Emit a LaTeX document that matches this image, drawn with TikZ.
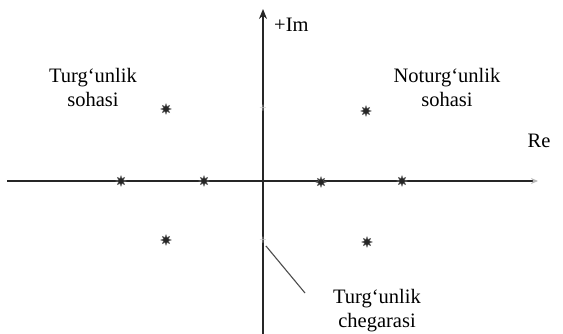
\documentclass[tikz,border=0pt]{standalone}
\usepackage{fontspec}
\setmainfont{Liberation Serif}
\usetikzlibrary{arrows.meta,positioning,shapes.geometric}
\tikzset{
    axis/.style={line width=1.3pt, black!85},
    pole/.style={star, star points=8, star point ratio=2.0, fill=black!85, draw=black!60,
                 line width=0.4pt, minimum size=10.5pt, inner sep=0pt},
    faint/.style={font=\fontsize{13}{13}\selectfont, text=gray!45, inner sep=0pt},
    lbl/.style={font=\fontsize{20.5}{24}\selectfont, align=center, inner sep=0pt},
    pointer/.style={line width=1.1pt, black!70},
}

\begin{document}
\begin{tikzpicture}[x=1pt,y=-1pt]
    \useasboundingbox (0,0) rectangle (563,334);
    % Axes
    \coordinate (O)    at (263,181);
    \coordinate (reL)  at (7,181);
    \coordinate (reR)  at (538,181);
    \coordinate (imB)  at (263,334);
    \coordinate (imT)  at (263,9);
    \draw[axis, -{Stealth[length=7pt,width=6pt,color=gray!55]}] (reL) -- (reR);
    \draw[axis, -{Stealth[length=10pt,width=8pt]}] (imB) -- (imT);

    % Roots
    \node[pole] (p1) at (166,109) {};
    \node[pole] (p2) at (366,111) {};
    \node[pole] (p3) at (121,181) {};
    \node[pole] (p4) at (204,181) {};
    \node[pole] (p5) at (321,182) {};
    \node[pole] (p6) at (402,181) {};
    \node[pole] (p7) at (166,240) {};
    \node[pole] (p8) at (367,242) {};
    \node[faint] (m1) at (263,109) {+};
    \node[faint] (m2) at (263,241) {+};

    % Labels
    \node[lbl, anchor=west] (im) at (274,25)  {+Im};
    \node[lbl]              (re) at (539,141) {Re};
    \node[lbl] (stab)   at (93,87)   {Turg‘unlik\\sohasi};
    \node[lbl] (unstab) at (447,87)  {Noturg‘unlik\\sohasi};
    \node[lbl] (bound)  at (377,311) {Turg‘unlik\\chegarasi};

    % Pointer to the boundary
    \coordinate (ptr) at (305,293);
    \draw[pointer] (m2.south east) ++(-1,1) -- (ptr);
\end{tikzpicture}
\end{document}
